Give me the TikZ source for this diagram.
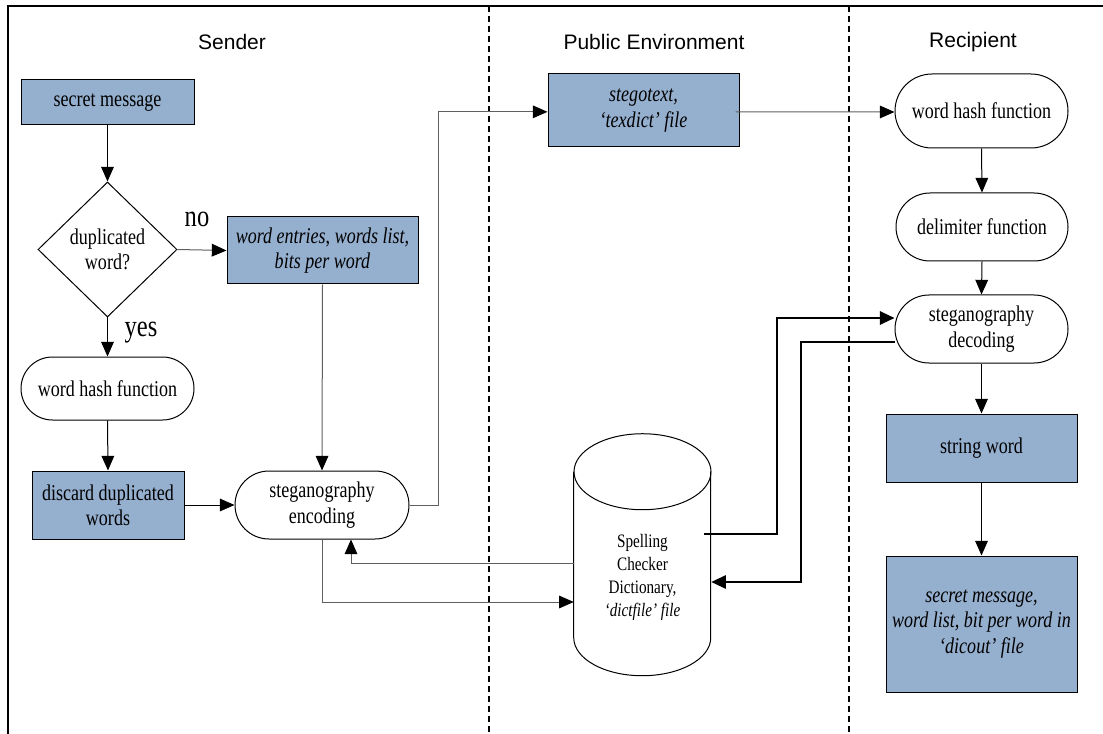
\documentclass[tikz,border=0pt]{standalone}
\usepackage{fontspec}
\setmainfont[FakeStretch=0.8]{Liberation Serif}
\setsansfont{Liberation Sans}
\usetikzlibrary{shapes.geometric,arrows.meta}
\definecolor{boxblue}{RGB}{149,175,207}
\definecolor{linegray}{RGB}{95,95,95}
\newcommand\mainfs{\fontsize{16.9}{19}\selectfont}
\newcommand\smallfs{\fontsize{14.25}{17.25}\selectfont}
\newcommand\labfs{\fontsize{23}{26}\selectfont}
\newcommand\titlefs{\fontsize{15.75}{18}\selectfont\sffamily}
\begin{document}
\begin{tikzpicture}[x=0.75pt,y=-0.75pt,
  base/.style={font=\mainfs, align=center, inner sep=0pt, line width=0.75pt},
  bluebox/.style={base, draw, fill=boxblue, rectangle},
  stadium/.style={base, draw, fill=white, rectangle, rounded corners=#1},
  arr/.style={-{Triangle[length=11pt,width=9.5pt,color=black]}, line width=0.75pt},
  garr/.style={arr, draw=linegray},
  tarr/.style={-{Triangle[length=11pt,width=10pt,color=black]}, line width=1.5pt},
  lane/.style={line width=1.5pt, dash pattern=on 4.5pt off 3pt},
  frame/.style={line width=1.5pt},
  title/.style={font=\titlefs, inner sep=0pt},
  lab/.style={font=\labfs, inner sep=0pt}]
\useasboundingbox (0,0) rectangle (1103,734);

% frame and lanes
\coordinate (tl) at (8,6);
\coordinate (tr) at (1103,6);
\coordinate (bl) at (8,734);
\draw[frame] (bl) -- (tl) -- (tr);
\coordinate (l1t) at (489,6);
\coordinate (l1b) at (489,734);
\coordinate (l2t) at (849,6);
\coordinate (l2b) at (849,734);
\draw[lane] (l1t) -- (l1b);
\draw[lane] (l2t) -- (l2b);

% titles
\node[title] (tsend) at (232,42) {Sender};
\node[title] (tpub) at (654,42) {Public Environment};
\node[title] (trec) at (973,42) {Recipient};

% sender
\node[bluebox, minimum width=129.75pt, minimum height=33.75pt] (sm) at (107.5,102.5) {secret message};
\node[base, draw, diamond, aspect=1, minimum width=104.25pt, minimum height=101.25pt] (dup) at (107.5,249.5) {duplicated\\word?};
\node[bluebox, minimum width=143.25pt, minimum height=50.25pt] (we) at (322.5,250.5) {\textit{word entries}, \textit{words list,}\\\textit{bits per word}};
\node[stadium=23.6pt, minimum width=129.75pt, minimum height=47.25pt] (wh1) at (107.5,388.5) {word hash function};
\node[bluebox, minimum width=114pt, minimum height=51pt] (dd) at (108,505) {discard duplicated\\words};
\node[stadium=25.5pt, minimum width=130.5pt, minimum height=51pt] (enc) at (322,505) {steganography\\encoding};
\node[lab] (no) at (197,219) {no};
\node[lab] (yes) at (141,333) {yes};

% public
\node[bluebox, minimum width=143.25pt, minimum height=54.75pt] (st) at (643.5,110.5) {\textit{stegotext,}\\\textit{‘texdict’ file}};
\node[minimum width=102.75pt, minimum height=181.5pt, inner sep=0pt] (db) at (642.5,555) {};
\draw[line width=0.75pt] (db.north west) ++(0,-28.5pt) coordinate (dbtl)
  -- ++(0,-124.5pt) arc[start angle=180, end angle=360, x radius=51.375pt, y radius=28.5pt]
  -- ++(0,124.5pt);
\draw[line width=0.75pt] (db.north) ++(0,-28.5pt) ellipse[x radius=51.375pt, y radius=28.5pt];
\node[font=\smallfs, align=center, inner sep=0pt] (dbt) at (642.5,577) {Spelling\\Checker\\Dictionary,\\\textit{‘dictfile’ file}};

% recipient
\node[stadium=27.75pt, minimum width=129.75pt, minimum height=55.5pt] (wh2) at (981.5,111) {word hash function};
\node[stadium=25.5pt, minimum width=129pt, minimum height=51pt] (del) at (982,227) {delimiter function};
\node[stadium=25.5pt, minimum width=129.75pt, minimum height=51pt] (dec) at (981.5,329) {steganography\\decoding};
\node[bluebox, minimum width=143.25pt, minimum height=51pt] (sw) at (981.5,448) {string word};
\node[bluebox, minimum width=143.25pt, minimum height=102pt] (sm2) at (981.5,624) {\textit{secret message,}\\\textit{word list, bit per word in}\\\textit{‘dicout’ file}};

% connectors sender
\draw[arr] (sm.south) -- (dup.north);
\draw[garr] (dup.east) -- (we.west);
\draw[arr] (dup.south) -- (wh1.north);
\draw[arr] (wh1.south) -- (dd.north);
\draw[arr] (dd.east) -- (enc.west);
\draw[garr] (we.south) -- (enc.north);
\draw[garr] (enc.east) -- ++(29,0) |- ([yshift=-1pt]st.west);
\draw[garr] ([xshift=-3pt,yshift=-1pt]st.east) -- ([yshift=-0.75pt]wh2.west);
\draw[garr] ([yshift=-6pt]db.west) -| ([xshift=21.75pt]enc.south);
\draw[garr] (enc.south) |- ([yshift=-35.25pt]db.west);

% connectors recipient
\draw[arr] (wh2.south) -- (del.north);
\draw[arr] (del.south) -- (dec.north);
\draw[arr] (dec.south) -- (sw.north);
\draw[arr] (sw.south) -- (sm2.north);
\draw[tarr] ([xshift=-5.25pt,yshift=15.75pt]db.east) -- ++(73,0) |- ([yshift=8.25pt]dec.west);
\draw[tarr] ([yshift=-9.75pt]dec.west) -- ++(-94,0) |- ([yshift=-20.25pt]db.east);
\end{tikzpicture}
\end{document}
